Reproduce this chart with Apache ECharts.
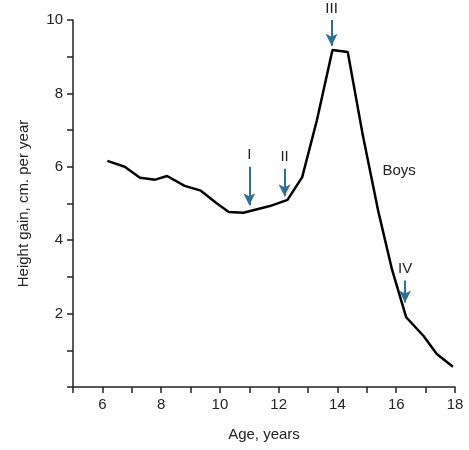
<!DOCTYPE html><html><head><meta charset="utf-8"><script src="https://cdn.jsdelivr.net/npm/echarts@6/dist/echarts.min.js"></script></head><body style="margin:0;background:#fff"><div id="c" style="width:469px;height:450px"></div><script>
const ages=[6.17,6.76,7.28,7.8,8.2,8.8,9.35,9.9,10.3,10.8,11.7,12.3,12.8,13.3,13.83,14.35,14.86,15.38,15.86,16.34,16.93,17.38,17.93];
const gains=[6.16,6.0,5.7,5.65,5.75,5.48,5.35,5.0,4.77,4.75,4.93,5.1,5.72,7.27,9.18,9.13,6.87,4.82,3.19,1.9,1.39,0.9,0.55];
const arrowLabels=['I','II','III','IV'];
const arrowX=[11,12.2,13.8,16.3];
const arrowTop=[6.0,5.95,10.0,2.9];
const arrowBottom=[4.95,5.2,9.3,2.3];
const seriesLabel='Boys', seriesLabelX=16.1, seriesLabelY=5.9;
const font='Liberation Sans, Arial, sans-serif';
const blue='#2f6f96';
const chart=echarts.init(document.getElementById('c'));
chart.setOption({
 animation:false,
 grid:{left:73,right:14,top:20,bottom:63},
 xAxis:{type:'value',min:5,max:18,interval:1,name:'Age, years',nameLocation:'middle',nameGap:40,
  nameTextStyle:{color:'#222',fontSize:15,fontFamily:font},
  axisLine:{lineStyle:{color:'#222',width:1.5}},axisTick:{length:6,lineStyle:{color:'#222',width:1.5}},
  axisLabel:{color:'#222',fontSize:15,fontFamily:font,margin:10,formatter:v=>v%2===0&&v>5?String(v):''},
  splitLine:{show:false}},
 yAxis:{type:'value',min:0,max:10,interval:1,name:'Height gain, cm. per year',nameLocation:'middle',nameGap:42,
  nameTextStyle:{color:'#222',fontSize:15,fontFamily:font},
  axisLine:{show:true,lineStyle:{color:'#222',width:1.5}},axisTick:{show:true,length:6,lineStyle:{color:'#222',width:1.5}},
  axisLabel:{color:'#222',fontSize:15,fontFamily:font,margin:10,formatter:v=>v%2===0&&v>0?String(v):''},
  splitLine:{show:false}},
 series:[{type:'line',data:ages.map((a,i)=>[a,gains[i]]),symbol:'none',lineStyle:{color:'#000',width:2.5},
  markLine:{silent:true,symbol:['none','arrow'],symbolSize:[9,12],
   lineStyle:{color:blue,width:2,type:'solid'},
   label:{show:true,position:'start',distance:4,color:'#222',fontSize:15,fontFamily:font,formatter:p=>p.data.name||arrowLabels[p.dataIndex]},
   data:arrowX.map((x,i)=>[{coord:[x,arrowTop[i]],name:arrowLabels[i]},{coord:[x,arrowBottom[i]]}])},
  markPoint:{symbol:'circle',symbolSize:0,label:{show:true,color:'#222',fontSize:15,fontFamily:font,formatter:seriesLabel},
   data:[{coord:[seriesLabelX,seriesLabelY]}]}
 }]
});
</script></body></html>
